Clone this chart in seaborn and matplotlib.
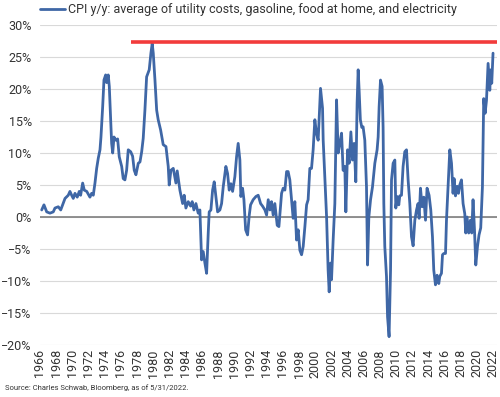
import matplotlib
matplotlib.use("Agg")
import matplotlib.pyplot as plt
import matplotlib.ticker as mtick
import pandas as pd
import seaborn as sns

# CPI y/y composite (year fraction, percent)
years = [
    1966.21, 1966.49, 1966.83, 1967.23, 1967.64, 1967.85, 1968.26, 1968.56, 1968.80, 1969.09,
    1969.49, 1969.70, 1969.91, 1970.11, 1970.32, 1970.60, 1970.85, 1971.02, 1971.27, 1971.47,
    1971.77, 1972.17, 1972.38, 1972.58, 1972.79, 1973.00, 1973.20, 1973.41, 1973.53, 1973.74,
    1973.90, 1974.11, 1974.23, 1974.43, 1974.56, 1974.73, 1974.85, 1974.98, 1975.14, 1975.38,
    1975.59, 1975.79, 1976.09, 1976.28, 1976.49, 1976.70, 1976.90, 1977.20, 1977.44, 1977.64,
    1977.85, 1978.14, 1978.35, 1978.56, 1978.75, 1978.96, 1979.17, 1979.49, 1979.70, 1979.86,
    1979.99, 1980.20, 1980.41, 1980.60, 1980.90, 1981.22, 1981.56, 1981.84, 1981.96, 1982.17,
    1982.46, 1982.79, 1982.95, 1983.28, 1983.62, 1983.81, 1984.02, 1984.31, 1984.60, 1984.80,
    1985.01, 1985.26, 1985.54, 1985.75, 1985.96, 1986.16, 1986.37, 1986.58, 1986.78, 1986.90,
    1987.11, 1987.32, 1987.52, 1987.73, 1987.94, 1988.22, 1988.43, 1988.63, 1988.96, 1989.17,
    1989.37, 1989.58, 1989.79, 1990.07, 1990.28, 1990.48, 1990.69, 1990.81, 1991.02, 1991.19,
    1991.40, 1991.64, 1991.84, 1992.01, 1992.33, 1992.67, 1992.95, 1993.25, 1993.49, 1993.78,
    1993.99, 1994.19, 1994.40, 1994.60, 1994.80, 1995.01, 1995.30, 1995.51, 1995.84, 1996.04,
    1996.25, 1996.46, 1996.65, 1996.86, 1997.07, 1997.27, 1997.48, 1997.69, 1997.89, 1998.10,
    1998.31, 1998.51, 1998.72, 1998.93, 1999.12, 1999.33, 1999.54, 1999.74, 1999.95, 2000.16,
    2000.36, 2000.65, 2000.90, 2000.98, 2001.19, 2001.40, 2001.59, 2001.72, 2001.89, 2002.01,
    2002.21, 2002.42, 2002.63, 2002.83, 2003.04, 2003.25, 2003.44, 2003.65, 2003.78, 2003.99,
    2004.19, 2004.40, 2004.60, 2004.80, 2005.01, 2005.17, 2005.30, 2005.42, 2005.57, 2005.75,
    2005.91, 2006.12, 2006.33, 2006.46, 2006.62, 2006.83, 2007.07, 2007.36, 2007.64, 2007.77,
    2007.89, 2008.06, 2008.26, 2008.38, 2008.47, 2008.59, 2008.80, 2008.93, 2009.12, 2009.30,
    2009.42, 2009.62, 2009.83, 2009.95, 2010.11, 2010.32, 2010.44, 2010.65, 2010.85, 2011.06,
    2011.27, 2011.47, 2011.68, 2011.89, 2012.09, 2012.30, 2012.51, 2012.70, 2012.83, 2013.00,
    2013.20, 2013.41, 2013.62, 2013.81, 2014.06, 2014.27, 2014.48, 2014.64, 2014.85, 2015.05,
    2015.26, 2015.38, 2015.59, 2015.72, 2015.88, 2016.09, 2016.21, 2016.41, 2016.62, 2016.83,
    2017.02, 2017.15, 2017.32, 2017.52, 2017.69, 2017.85, 2018.06, 2018.26, 2018.47, 2018.59,
    2018.75, 2018.96, 2019.17, 2019.33, 2019.49, 2019.67, 2019.83, 2020.04, 2020.23, 2020.44,
    2020.65, 2020.81, 2020.98, 2021.15, 2021.35, 2021.56, 2021.68, 2021.80, 2021.96,
]
cpi_yoy = [
    1.1, 1.9, 0.8, 0.6, 0.8, 1.4, 1.6, 1.1, 1.9, 2.9,
    3.4, 4.0, 3.4, 2.9, 3.7, 3.1, 4.0, 3.4, 5.3, 4.2,
    4.0, 3.1, 3.7, 3.4, 5.3, 7.6, 9.2, 10.5, 12.5, 17.2,
    21.4, 22.2, 21.0, 22.2, 20.4, 15.2, 11.5, 10.0, 12.5, 12.0,
    12.2, 9.4, 7.9, 6.0, 5.8, 7.3, 10.5, 10.2, 9.5, 7.3,
    6.6, 8.4, 8.6, 10.2, 12.3, 16.7, 21.9, 23.0, 25.6, 27.1,
    25.6, 21.4, 16.7, 15.2, 13.6, 11.3, 11.0, 7.9, 5.0, 7.3,
    7.6, 5.3, 7.2, 4.2, 2.1, 3.4, 1.4, 2.4, 1.7, 2.4,
    1.1, 2.1, 0.6, 1.1, -6.7, -5.4, -7.2, -8.8, -2.5, 0.8,
    1.1, 4.2, 5.5, 3.2, 0.8, 1.1, 2.1, 4.7, 7.9, 6.8,
    4.2, 5.2, 4.0, 6.3, 9.4, 11.5, 8.9, 3.2, 4.5, 2.7,
    -2.0, -2.8, 0.2, 1.9, 2.7, 3.2, 3.4, 2.1, 1.7, 1.1,
    0.3, 2.7, 1.1, 2.4, 0.3, 2.1, -1.3, -1.5, 3.7, 4.5,
    4.2, 7.1, 7.1, 5.8, 2.7, -0.2, 2.4, -3.6, -2.0, -5.2,
    -5.9, -4.6, -1.5, 1.9, 2.7, 7.6, 7.6, 10.5, 15.2, 13.0,
    12.0, 20.1, 17.0, 12.0, 5.8, 0.0, -8.3, -11.7, -7.2, -9.8,
    -3.6, 2.1, 18.3, 10.0, 11.5, 13.1, 7.3, 7.9, 0.8, 10.5,
    8.4, 13.3, 8.9, 11.5, 5.5, 17.8, 23.0, 19.8, 15.2, 14.0,
    14.1, 12.0, 4.7, -7.5, 0.0, 2.7, 4.7, 8.4, 10.5, 12.5,
    17.2, 21.4, 20.4, 14.0, 2.1, -4.6, -9.3, -15.6, -18.7, -8.3,
    5.8, 8.4, 8.9, 1.4, 3.2, 1.9, 3.3, 3.4, 7.9, 10.2,
    10.5, 5.8, 2.1, -3.1, -4.5, -0.5, 1.1, 2.1, -0.2, 4.5,
    1.6, 3.1, -0.5, 4.5, 3.4, 1.1, -3.1, -8.3, -10.6, -9.1,
    -10.4, -9.3, -8.8, -5.9, -5.7, -5.7, -0.5, 4.7, 10.5, 8.4,
    3.7, 6.0, 3.3, 4.8, 3.7, 5.0, 5.8, 2.1, 0.5, -2.5,
    0.0, -2.5, -0.5, -2.5, 2.7, -2.0, -7.5, -4.6, -2.8, -1.7,
    4.7, 18.5, 16.2, 18.2, 24.0, 19.8, 23.0, 20.9, 25.6,
]

# red reference line at the 1980 peak
peak_level = 27.3
peak_from = 1977.2
peak_to = 2022.5

tick_years = list(range(1966, 2023, 2))
series_label = "CPI y/y: average of utility costs, gasoline, food at home, and electricity"
source_note = "Source: Charles Schwab, Bloomberg, as of 5/31/2022."

sns.set_theme(style="white")
plt.rcParams["font.family"] = ["Roboto", "DejaVu Sans"]

df = pd.DataFrame({"year": years, "cpi": cpi_yoy})

fig = plt.figure(figsize=(5, 3.97), dpi=100)
ax = fig.add_axes([0.08, 0.131, 0.914, 0.806])

ax.grid(axis="y", color="#d9d9d9", lw=0.8)
ax.axhline(0, color="#7f7f7f", lw=1.2, zorder=1)
sns.lineplot(data=df, x="year", y="cpi", ax=ax, color="#3f67a6", lw=2.0,
             label=series_label, zorder=3)
ax.hlines(peak_level, peak_from, peak_to, color="#f23b3b", lw=2.6,
          clip_on=False, zorder=4)

ax.set_xlim(1966, 2022.45)
ax.set_ylim(-20, 30)
ax.set_yticks(range(-20, 31, 5))
ax.yaxis.set_major_formatter(mtick.PercentFormatter(decimals=0))
ax.set_xticks(tick_years)
ax.set_xticklabels([str(y) for y in tick_years], rotation=90)
ax.tick_params(axis="both", length=0, labelsize=9, colors="#333333")
ax.tick_params(axis="y", pad=6)
ax.tick_params(axis="x", pad=3)
ax.set_xlabel("")
ax.set_ylabel("")
sns.despine(ax=ax, left=True, bottom=True)

ax.legend(loc="center left", bbox_to_anchor=(0.08, 0.975),
          bbox_transform=fig.transFigure, frameon=False, borderaxespad=0,
          borderpad=0, handlelength=2.0, handletextpad=0.2, fontsize=9,
          labelcolor="#333333")

fig.text(0.01, 0.023, source_note, fontsize=5.5, color="#333333", va="center")

fig.savefig("out.png", dpi=100)
